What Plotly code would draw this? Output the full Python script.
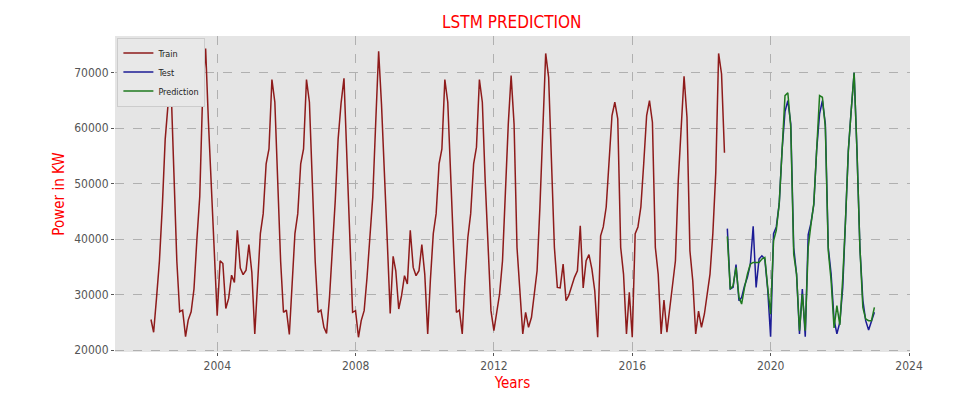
import pandas as pd
import plotly.graph_objects as go

# ---- data ----
train_start = "2002-01-31"
test_start = "2018-09-30"

train_values = [
    25500, 23200, 29500, 36000, 46000, 58000, 64500, 67500, 52000, 36000, 26900, 27200,  # 2002
    22400, 25400, 26900, 31000, 40000, 47700, 66500, 74400, 61000, 49000, 36500, 26200,  # 2003
    36100, 35600, 27500, 29300, 33500, 32200, 41600, 34800, 33600, 34400, 39000, 34000,  # 2004
    22900, 32500, 41000, 44600, 53600, 56300, 68800, 64700, 49000, 36000, 26800, 27200,  # 2005
    22800, 32500, 41000, 44600, 53600, 56300, 68800, 64700, 49000, 36000, 26800, 27200,  # 2006
    24100, 23000, 29500, 37500, 47000, 58000, 64500, 69000, 56000, 42200, 26800, 27100,  # 2007
    22300, 25300, 27100, 33000, 40500, 47600, 61000, 73900, 64400, 53000, 39700, 26600,  # 2008
    36900, 34300, 27400, 29800, 33400, 31900, 41600, 34900, 33400, 34300, 39000, 33700,  # 2009
    22900, 32500, 41000, 44600, 53600, 56300, 68800, 64700, 50600, 38500, 26800, 27200,  # 2010
    22900, 32500, 40300, 44600, 53600, 56600, 68800, 64700, 50600, 37300, 27100, 23500,  # 2011
    27100, 30100, 36100, 48800, 60800, 69500, 60800, 38500, 31300, 22900, 26800, 24100,  # 2012
    25900, 30100, 34300, 45800, 60800, 73500, 69200, 51800, 38500, 31300, 31200, 35500,  # 2013
    28900, 29800, 31600, 33100, 34300, 42400, 31200, 36100, 37200, 34600, 30700, 22300,  # 2014
    40600, 42200, 45800, 53600, 62300, 64700, 61700, 38500, 33700, 22900, 30400, 22300,  # 2015
    41000, 42200, 45800, 53600, 62300, 65000, 61100, 38500, 33700, 22900, 29000, 23200,  # 2016
    27700, 31300, 36100, 50600, 60800, 69400, 62000, 37900, 32500, 22900, 27000, 24100,  # 2017
    26500, 30100, 33700, 41000, 52000, 73500, 69800, 55600,                              # 2018
]

test_values = [
    41900, 31000, 31300, 35400,                                                          # 2018
    28900, 29500, 31600, 33100, 35500, 42300, 31300, 36400, 37000, 36400, 31000, 22400,  # 2019
    41000, 42200, 46400, 56000, 63000, 65000, 60800, 38500, 33700, 22900, 31000, 22400,  # 2020
    40800, 42800, 46200, 56000, 62600, 65000, 60800, 38500, 33700, 25500, 22900, 25000,  # 2021
    31300, 42200, 56000, 63200, 70000, 56000, 38500, 29000, 25300, 23600, 25000, 26800,  # 2022
]

pred_values = [
    40500, 31000, 31600, 34900,                                                          # 2018
    29500, 28300, 31300, 33700, 35500, 35800, 35800, 35800, 36400, 36700, 31300, 26500,  # 2019
    39700, 41600, 46400, 56000, 65900, 66400, 60200, 37300, 33700, 23500, 30100, 23500,  # 2020
    38500, 42500, 46400, 56000, 65900, 65600, 60200, 37900, 32500, 24000, 28000, 24500,  # 2021
    33000, 43000, 56000, 63200, 70000, 56000, 38500, 27700, 25600, 25300, 25300, 27700,  # 2022
]

x_tick_labels = ["2004", "2008", "2012", "2016", "2020", "2024"]
y_tick_values = [20000, 30000, 40000, 50000, 60000, 70000]


def month_ends(start, n):
    try:
        return pd.date_range(start, periods=n, freq="ME")
    except Exception:
        return pd.date_range(start, periods=n, freq="M")


train_dates = month_ends(train_start, len(train_values))
test_dates = month_ends(test_start, len(test_values))

FONT = "DejaVu Sans Condensed, Liberation Sans Narrow, Roboto Condensed, DejaVu Sans, sans-serif"

fig = go.Figure()
fig.add_trace(go.Scatter(x=train_dates, y=train_values, mode="lines", name="Train",
                         line=dict(color="#8e1b1b", width=1.5)))
fig.add_trace(go.Scatter(x=test_dates, y=test_values, mode="lines", name="Test",
                         line=dict(color="#1c1c96", width=1.5)))
fig.add_trace(go.Scatter(x=test_dates, y=pred_values, mode="lines", name="Prediction",
                         line=dict(color="#1f7a1f", width=1.5)))

fig.update_layout(
    width=973, height=396,
    margin=dict(l=115, r=63, t=36, b=44, autoexpand=False),
    paper_bgcolor="white",
    plot_bgcolor="#e5e5e5",
    font=dict(family=FONT, size=12, color="#555555"),
    title=dict(text="LSTM PREDICTION", x=0.526, xanchor="center", y=0.945, yanchor="middle",
               xref="container", yref="container", automargin=False,
               font=dict(family=FONT, size=17, color="red")),
    showlegend=True,
    legend=dict(x=0.003, y=0.995, xanchor="left", yanchor="top",
                bgcolor="#e8e8e8", bordercolor="#cccccc", borderwidth=1,
                font=dict(family=FONT, size=9, color="#222222"),
                tracegroupgap=0, itemwidth=30),
)

fig.update_xaxes(
    type="date",
    automargin=False,
    range=["2001-01-16", "2024-01-11"],
    tickvals=[pd.Timestamp(f"{t}-01-01") for t in x_tick_labels],
    ticktext=x_tick_labels,
    showgrid=True, gridcolor="#b0b0b0", gridwidth=1, griddash="dash",
    zeroline=False, showline=False,
    ticks="outside", ticklen=3, tickcolor="#555555",
    tickfont=dict(family=FONT, size=12, color="#555555"),
    title=dict(text="Years", font=dict(family=FONT, size=15, color="red"), standoff=5),
)
fig.update_yaxes(
    automargin=False,
    range=[19640, 76650],
    tickvals=y_tick_values,
    ticktext=[str(v) for v in y_tick_values],
    showgrid=True, gridcolor="#b0b0b0", gridwidth=1, griddash="dash",
    zeroline=False, showline=False,
    ticks="outside", ticklen=3, tickcolor="#555555",
    tickfont=dict(family=FONT, size=12, color="#555555"),
    title=dict(text="Power in KW", font=dict(family=FONT, size=15, color="red"), standoff=6),
)

fig.write_html("out.html",
               config={"displayModeBar": False},
               post_script="document.body.style.margin='0';document.body.style.overflow='hidden';")
